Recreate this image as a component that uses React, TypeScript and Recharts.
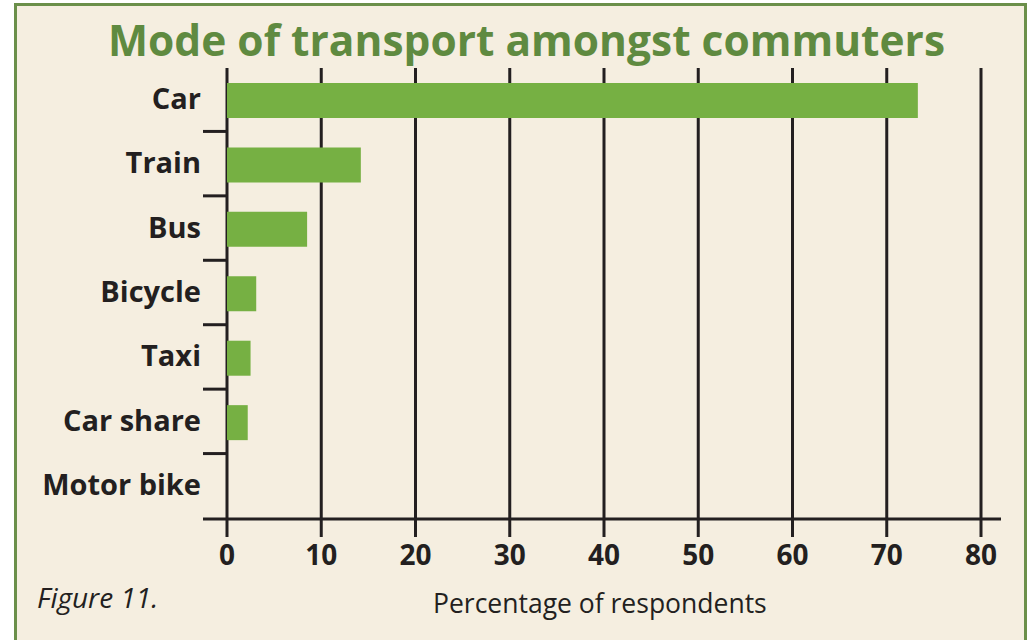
import React from 'react';
import { BarChart, Bar, XAxis, YAxis, CartesianGrid } from 'recharts';

const modes = ['Car', 'Train', 'Bus', 'Bicycle', 'Taxi', 'Car share', 'Motor bike'];
const percentages = [73.3, 14.2, 8.5, 3.1, 2.5, 2.2, 0];
const xTicks = [0, 10, 20, 30, 40, 50, 60, 70, 80];

const INK = '#231f20';
const BAR_GREEN = '#76b043';
const TITLE_GREEN = '#5f8a40';
const PANEL = '#f5eee0';
const PAD_L = 24;
const PAD_R = 20;

const ModeTick = (props: any) => {
  const { y, payload, index } = props;
  const half = payload && payload.offset ? payload.offset : 32;
  const isLast = index === modes.length - 1;
  return (
    <g>
      <text x={201} y={y - 3} textAnchor="end" dominantBaseline="central"
        fontSize={29} fontWeight={700} fill={INK}>
        {payload.value}
      </text>
      {!isLast && (
        <line x1={203} x2={228} y1={y + half - 1} y2={y + half - 1} stroke={INK} strokeWidth={3} />
      )}
    </g>
  );
};

// grid lines only at the value ticks, not at the padded plot edges
const gridAtTicks = ({ xAxis, offset }: any) => {
  const sc = xAxis && xAxis.scale;
  if (typeof sc === 'function') return xTicks.map((t) => sc(t));
  if (sc && typeof sc.map === 'function') return xTicks.map((t) => sc.map(t));
  const left = offset.left + PAD_L;
  const w = offset.width - PAD_L - PAD_R;
  return xTicks.map((t) => left + (t / 80) * w);
};

export default function App() {
  const data = modes.map((mode, i) => ({ mode, value: percentages[i] }));

  return (
    <div style={{ position: 'relative', width: 1035, height: 640, overflow: 'hidden', background: '#fff', fontFamily: '"Open Sans", sans-serif' }}>
      <style>{'body{margin:0}'}</style>
      {/* beige panel with green frame */}
      <div style={{ position: 'absolute', left: 14, top: 3, width: 1007, height: 660, border: '3px solid #6b8f4a', background: PANEL }} />

      <svg width={1035} height={70} style={{ position: 'absolute', left: 0, top: 0 }}>
        <text x={108} y={56} textLength={837} lengthAdjust="spacingAndGlyphs"
          fontSize={43} fontWeight={700} fill={TITLE_GREEN} fontFamily='"Open Sans", sans-serif'>
          Mode of transport amongst commuters
        </text>
      </svg>

      <div style={{ position: 'absolute', left: 0, top: 0 }}>
        <BarChart width={1035} height={640} data={data} layout="vertical"
          margin={{ top: 68, right: 34, left: 0, bottom: 61 }}
          style={{ fontFamily: '"Open Sans", sans-serif' }}>
          <CartesianGrid horizontal={false} stroke={INK} strokeWidth={3}
            verticalCoordinatesGenerator={gridAtTicks} />
          <XAxis type="number" dataKey="value" domain={[0, 80]} ticks={xTicks}
            padding={{ left: PAD_L, right: PAD_R }} height={60}
            axisLine={{ stroke: INK, strokeWidth: 3 }}
            tickLine={{ stroke: INK, strokeWidth: 3 }} tickSize={18} tickMargin={8}
            tick={{ fontSize: 28, fontWeight: 700, fill: INK }} />
          <YAxis type="category" dataKey="mode" width={203} axisLine={false} tickLine={false}
            tick={<ModeTick />} interval={0} />
          <Bar dataKey="value" fill={BAR_GREEN} barSize={35} isAnimationActive={false} />
        </BarChart>
      </div>

      <div style={{ position: 'absolute', left: 433, top: 585, fontSize: 26.5, color: INK, whiteSpace: 'nowrap' }}>
        Percentage of respondents
      </div>
      <div style={{ position: 'absolute', left: 37, top: 578, fontSize: 28, fontStyle: 'italic', color: INK }}>
        Figure 11.
      </div>
    </div>
  );
}
